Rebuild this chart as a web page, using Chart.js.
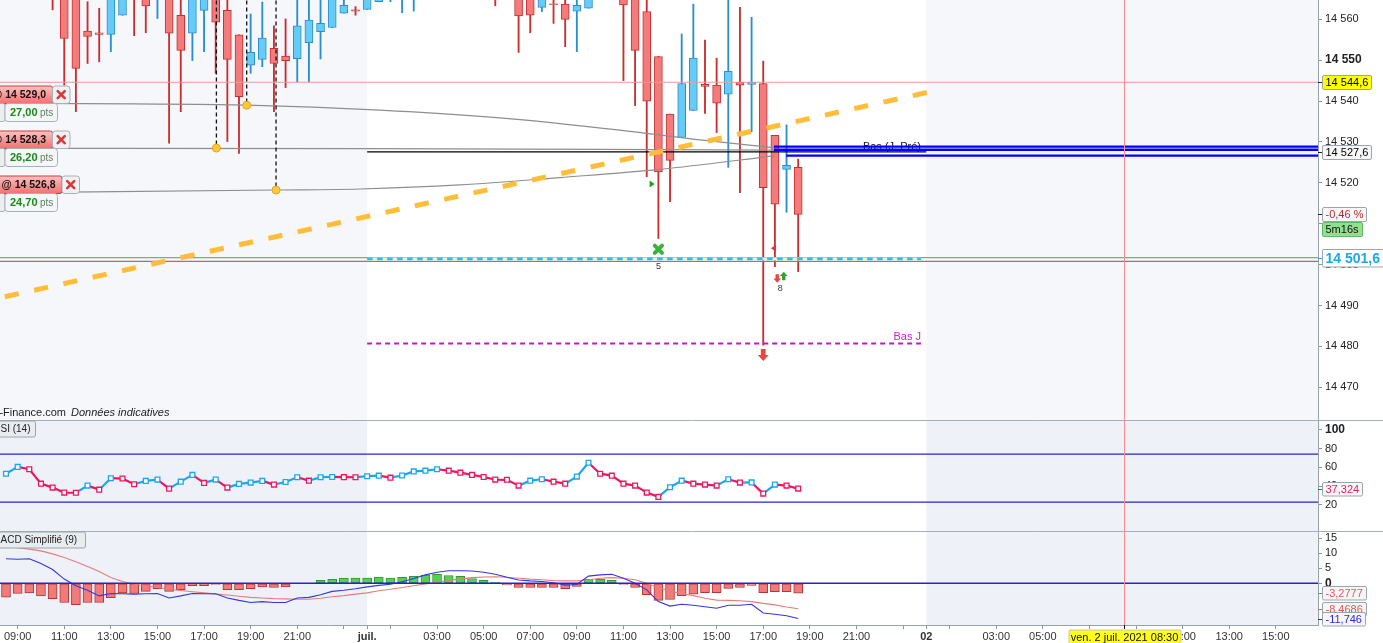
<!DOCTYPE html>
<html lang="fr">
<head>
    <meta charset="UTF-8">
    <title>Nasdaq 100 - 30 minutes</title>
    <script src="https://cdn.jsdelivr.net/npm/chart.js"></script>
    <style>
* { margin: 0; padding: 0; box-sizing: border-box; }
body { background: #ffffff; width: 1383px; height: 643px; overflow: hidden; }
canvas { display: block; }
    </style>
</head>
<body>
    <canvas id="priceChart" width="1383" height="420"></canvas>
    <canvas id="rsiChart" width="1383" height="111"></canvas>
    <canvas id="macdChart" width="1383" height="112"></canvas>

<script>
// time is counted in hours from 30/06 00:00, one candle every 30 min
const firstCandle = 8.5;
const candleStep = 0.5;

const opens = [14570, 14572, 14578, 14576, 14568, 14566, 14566, 14557.1, 14556.7, 14556.3,
    14561.0, 14570, 14567, 14566, 14567, 14561.0, 14556.6, 14562.2, 14567, 14562.2,
    14556.2, 14548.8, 14550.2, 14552.9, 14551.0, 14550.4, 14554.3, 14557.0, 14558.0, 14561.5,
    14562.3, 14562.4, 14564.3, 14567, 14566, 14569, 14573, 14575, 14577, 14575,
    14573, 14571, 14569, 14568, 14570, 14566, 14562.9, 14563.8, 14563.7, 14562.0,
    14562.7, 14572, 14569, 14567, 14566, 14561.9, 14550.9, 14536.8, 14531.1, 14537.7,
    14544.1, 14543.9, 14541.7, 14544.6, 14544.1, 14544.3, 14531.6, 14523.3, 14523.8];
const highs = [14576, 14580, 14581, 14578, 14570, 14568, 14568, 14564.3, 14562.7, 14569,
    14570, 14572, 14569, 14570, 14569, 14566, 14568, 14569, 14569, 14566,
    14556.2, 14561.3, 14564.2, 14558.4, 14560.1, 14566, 14566, 14566, 14568, 14566,
    14563.1, 14569, 14570, 14571, 14572, 14576, 14578, 14579, 14579, 14577,
    14575, 14573, 14571, 14570, 14572, 14568, 14568, 14566, 14566, 14566,
    14575, 14574, 14571, 14569, 14568, 14566, 14550.9, 14536.8, 14556.4, 14563.7,
    14554.9, 14550.5, 14566, 14562.9, 14560.5, 14549.8, 14531.6, 14534.2, 14525.8];
const lows = [14566, 14568, 14570, 14566, 14562.3, 14543.9, 14537.4, 14549.2, 14549.6, 14552.1,
    14561.0, 14556.0, 14556.7, 14560.2, 14529.7, 14537.4, 14549.9, 14552.1, 14546.8, 14530.1,
    14527.2, 14546.8, 14548.4, 14537.4, 14543.3, 14544.7, 14544.7, 14550.3, 14558.0, 14561.5,
    14561.0, 14562.4, 14564.3, 14564.3, 14561.6, 14562.0, 14570, 14572, 14571, 14569,
    14568, 14566, 14563.3, 14565, 14551.9, 14556.7, 14561.9, 14559.0, 14553.3, 14552.1,
    14562.7, 14566, 14565.5, 14545.0, 14538.9, 14521.5, 14506.4, 14515.4, 14531.1, 14537.7,
    14537.0, 14532.3, 14523.8, 14517.6, 14532.5, 14480.3, 14499.5, 14512.8, 14498.3];
const closes = [14572, 14578, 14576, 14568, 14565.5, 14555.3, 14548.0, 14555.8, 14556.3, 14567,
    14568, 14566, 14563.3, 14568, 14556.6, 14552.4, 14566, 14567, 14559.3, 14550.2,
    14541.1, 14551.9, 14555.4, 14549.2, 14549.9, 14558.4, 14559.8, 14559.0, 14566, 14563.4,
    14562.0, 14567, 14568, 14569, 14570, 14574, 14576, 14577, 14575, 14573,
    14571, 14569, 14567, 14567.5, 14560.8, 14561.0, 14566, 14563.6, 14560.0, 14563.4,
    14572, 14569, 14567, 14563.5, 14552.4, 14540.0, 14522.7, 14525.5, 14544.3, 14550.5,
    14543.6, 14539.5, 14547.3, 14543.9, 14544.6, 14518.8, 14514.8, 14524.3, 14512.3];

const rsi14 = [53.2, 60.4, 57.9, 42.6, 38.4, 33.1, 32.9, 40.5, 36.2, 48.4,
    48.0, 42.0, 45.5, 46.9, 37.3, 44.7, 51.9, 43.4, 46.9, 38.4,
    42.3, 43.7, 45.5, 41.6, 44.4, 49.4, 45.8, 49.4, 49.7, 49.5,
    49.4, 50.5, 51.1, 49.0, 51.3, 55.6, 56.4, 57.9, 56.4, 54.3,
    51.9, 49.7, 46.9, 46.7, 40.5, 45.8, 47.3, 44.7, 42.6, 50.1,
    64.9, 53.2, 51.1, 42.6, 40.5, 33.1, 28.5, 38.8, 45.8, 42.6,
    41.6, 40.5, 47.3, 43.7, 43.9, 32.0, 41.6, 40.5, 37.324];
const rsiBands = [74, 23];

const macdLine = [8.2, 8.0, 8.2, 6.6, 4.6, 1.4, -0.8, -2.3, -4.2, -3.4,
    -3.5, -3.6, -3.5, -3.4, -4.9, -4.2, -3.4, -3.5, -3.5, -4.9,
    -5.7, -6.4, -6.1, -6.4, -6.4, -4.9, -4.7, -3.8, -2.7, -2.3,
    -1.8, -1.2, -0.7, -0.3, 0.5, 1.6, 2.8, 3.7, 4.2, 4.2,
    4.1, 3.7, 3.0, 2.0, 1.1, 0.8, 0.6, 0.2, -0.6, -0.4,
    2.4, 2.8, 3.0, 1.7, 0.0, -2.2, -6.1, -7.6, -7.0, -7.3,
    -7.8, -8.3, -7.3, -7.3, -7.0, -9.9, -10.3, -10.8, -11.746];
const macdSignal = [12.1, 11.9, 11.4, 10.8, 9.8, 8.6, 7.2, 5.6, 3.9, 1.9,
    0.6, -0.3, -0.8, -1.4, -2.0, -2.4, -2.8, -3.2, -3.6, -3.9,
    -4.3, -4.7, -4.9, -5.1, -5.2, -5.3, -5.3, -5.0, -4.5, -4.1,
    -3.6, -3.2, -2.5, -2.0, -1.4, -0.8, -0.2, 0.3, 1.0, 1.4,
    1.9, 2.1, 2.2, 2.0, 1.7, 1.4, 1.2, 0.9, 0.8, 0.8,
    1.2, 1.7, 1.9, 1.7, 1.2, 0.0, -1.4, -2.6, -3.4, -4.1,
    -5.0, -5.6, -5.7, -5.8, -6.1, -6.7, -7.2, -7.9, -8.4686];
const macdHisto = [-4.6, -3.4, -3.2, -4.2, -5.1, -6.4, -7.1, -6.4, -6.4, -4.8,
    -3.2, -3.4, -2.7, -1.8, -2.7, -2.1, -0.8, -0.8, -0.4, -2.1,
    -2.1, -1.8, -1.2, -1.4, -1.2, 0.0, 0.0, 1.0, 1.3, 1.7,
    1.7, 1.7, 2.1, 1.7, 2.0, 2.3, 2.7, 3.0, 2.6, 2.3,
    1.6, 1.0, 0.3, -0.5, -1.4, -1.4, -1.4, -1.4, -1.8, -1.0,
    1.3, 1.3, 1.0, -0.4, -1.4, -3.8, -5.7, -5.4, -4.1, -3.6,
    -3.1, -3.1, -1.7, -1.4, -0.7, -3.1, -2.8, -2.8, -3.2777];

const timeTicks = [9, 11, 13, 15, 17, 19, 21, 23, 24, 25, 27, 29, 31, 33, 35, 37, 39, 41, 43, 45, 47, 48, 49, 51, 53, 55, 57, 59, 61, 63];
const timeLabels = ['09:00', '11:00', '13:00', '15:00', '17:00', '19:00', '21:00', '', 'juil.', '',
    '03:00', '05:00', '07:00', '09:00', '11:00', '13:00', '15:00', '17:00', '19:00', '21:00',
    '', '02', '', '03:00', '05:00', '07:00', '09:00', '11:00', '13:00', '15:00'];
const boldTimeLabels = ['juil.', '02'];
const priceTicks = [14470, 14480, 14490, 14500, 14510, 14520, 14530, 14540, 14550, 14560];
const rsiTicks = [20, 40, 60, 80, 100];
const macdTicks = [0, 5, 10, 15];

// drawn objects and levels
const dayBreaks = [24, 48];
const levelLabelEnd = 47.77;
const alertLevel = 14544.6;
const prevDayLow = 14527.6;
const dayLow = 14480.7;
const lastQuote = 14501.6;
const quoteBand = [14500.8, 14501.4, 14501.7];
const positionLevels = [14528.85, 14528.1, 14526.65];
const positionStarts = [41.46, 41.46, 41.98];
const entryTimes = [17.53, 18.83, 20.09];
const entryPrices = [14528.5, 14539.0, 14518.25];
const orderPrices = [14529.0, 14528.3, 14526.8];
const orderGains = [27.0, 26.2, 24.7];
const trendLine = [[8.2425, 14491.9], [48.03, 14542.1]];
const exitCurves = [
    [[8.2425, 14539.5], [18.84, 14539.0], [24.55, 14537.8], [29.7, 14535.9], [34.85, 14532.9], [38.29, 14530.5], [41.46, 14528.6]],
    [[8.2425, 14528.45], [24, 14528.35], [34, 14528.2], [41.46, 14528.0]],
    [[8.2425, 14517.6], [20.09, 14518.25], [23.69, 14518.5], [27.98, 14519.5], [32.28, 14521.3], [36.57, 14523.3], [41.46, 14526.6]]
];
const tradeMarks = [
    { t: 36.23, p: 14519.7, kind: 'buyTri' },
    { t: 36.5, p: 14503.75, kind: 'cross' },
    { t: 41.44, p: 14504.0, kind: 'sellTri' },
    { t: 41.6, p: 14496.6, kind: 'down' },
    { t: 41.88, p: 14497.2, kind: 'up' },
    { t: 41.0, p: 14477.9, kind: 'bigDown' }
];
const markTexts = [{ t: 36.5, p: 14499.6, text: '5' }, { t: 41.73, p: 14494.2, text: '8' }];
const dayChange = -0.46;
const countdown = '5m16s';
const cursorTime = 56.5;
const cursorLabel = 'ven. 2 juil. 2021 08:30';

const xMin = 8.2425, xMax = 64.81;
const priceMin = 14462.0, priceMax = 14564.72;

const FONT = 'Arial, "Liberation Sans", Helvetica, sans-serif';
Chart.defaults.font.family = FONT;
Chart.defaults.font.size = 11;
Chart.defaults.color = '#222';

const candleTimes = opens.map((_, i) => firstCandle + i * candleStep);
const upCandle = opens.map((o, i) => closes[i] >= o);
const farLeft = xMin - 1, farRight = xMax + 1;

function frNumber(v, decimals) {
    const parts = Math.abs(v).toFixed(decimals).split('.');
    const whole = parts[0].replace(/\B(?=(\d{3})+(?!\d))/g, ' ');
    return (v < 0 ? '-' : '') + whole + (parts[1] ? ',' + parts[1] : '');
}

function roundBox(ctx, x, y, w, h, r, fill, stroke) {
    ctx.beginPath();
    if (ctx.roundRect) ctx.roundRect(x, y, w, h, r); else ctx.rect(x, y, w, h);
    if (fill) { ctx.fillStyle = fill; ctx.fill(); }
    if (stroke) { ctx.strokeStyle = stroke; ctx.lineWidth = 1; ctx.stroke(); }
}

function seg(points, color, width, dash, order, extra) {
    return Object.assign({
        type: 'line',
        data: points.map(p => ({ x: p[0], y: p[1] })),
        borderColor: color, borderWidth: width, borderDash: dash || [],
        pointRadius: 0, fill: false, tension: 0, clip: 0, order: order
    }, extra || {});
}

function xAxis(show) {
    return {
        type: 'linear', min: xMin, max: xMax, offset: false, bounds: 'data', display: show,
        grid: { drawOnChartArea: false, offset: false, tickLength: 4, color: '#8c959e' },
        border: { display: true, color: '#98a2ac' },
        afterFit(s) { if (show) s.height = 18; s.paddingLeft = 0; s.paddingRight = 0; },
        afterBuildTicks(s) { s.ticks = timeTicks.map(v => ({ value: v })); },
        ticks: {
            autoSkip: false, maxRotation: 0, padding: 1, color: '#333',
            font: c => ({ size: 11, weight: boldTimeLabels.includes(timeLabels[c.index]) ? 'bold' : 'normal' }),
            callback: (v, i) => timeLabels[i]
        }
    };
}

function yAxis(min, max, tickValues, boldValue) {
    return {
        position: 'right', min: min, max: max, bounds: 'data', beginAtZero: false,
        grid: { drawOnChartArea: false, tickLength: 4, color: '#8c959e' },
        border: { display: true, color: '#98a2ac' },
        afterFit(s) { s.width = 65; s.paddingTop = 0; s.paddingBottom = 0; },
        afterBuildTicks(s) { s.ticks = tickValues.map(v => ({ value: v })); },
        ticks: {
            padding: 3, color: '#222',
            font: c => (c.tick && c.tick.value === boldValue) ? { size: 12, weight: 'bold' } : { size: 11 },
            callback: v => frNumber(v, 0)
        }
    };
}

function chartOptions(yScale, showX) {
    return {
        responsive: false, animation: false, events: [],
        layout: { padding: 0, autoPadding: false },
        plugins: { legend: { display: false }, tooltip: { enabled: false } },
        scales: { x: xAxis(showX), y: yScale }
    };
}

function panePlugin(shadeColor, separator) {
    return {
        id: 'pane',
        beforeDraw(chart) {
            const { ctx, chartArea: a, scales: { x } } = chart;
            const d1 = x.getPixelForValue(dayBreaks[0]);
            const d2 = x.getPixelForValue(dayBreaks[1]);
            ctx.save();
            ctx.fillStyle = shadeColor;
            ctx.fillRect(a.left, a.top, d1 - a.left, a.bottom - a.top);
            ctx.fillRect(d2, a.top, a.right - d2, a.bottom - a.top);
            ctx.restore();
        },
        afterDatasetsDraw(chart) {
            const { ctx, chartArea: a, scales: { x } } = chart;
            const cx = Math.round(x.getPixelForValue(cursorTime)) + 0.5;
            ctx.save();
            ctx.strokeStyle = '#ff8c8c';
            ctx.lineWidth = 1;
            ctx.beginPath(); ctx.moveTo(cx, a.top); ctx.lineTo(cx, a.bottom); ctx.stroke();
            ctx.restore();
        },
        afterDraw(chart) {
            if (!separator) return;
            const ctx = chart.ctx;
            ctx.save();
            ctx.strokeStyle = '#a6aeb6';
            ctx.lineWidth = 1;
            ctx.beginPath(); ctx.moveTo(0, 0.5); ctx.lineTo(chart.width, 0.5); ctx.stroke();
            ctx.restore();
        }
    };
}

function drawAxisTag(chart, py, text, style) {
    const { ctx, chartArea: a } = chart;
    ctx.font = style.font;
    const w = Math.ceil(ctx.measureText(text).width) + 6;
    const h = style.h;
    const x0 = a.right + 4.5, y0 = Math.round(py - h / 2) + 0.5;
    ctx.strokeStyle = style.tick || '#222';
    ctx.lineWidth = 1;
    ctx.beginPath(); ctx.moveTo(a.right, Math.round(py) + 0.5); ctx.lineTo(a.right + 4, Math.round(py) + 0.5); ctx.stroke();
    roundBox(ctx, x0, y0, w, h, 1.5, style.bg, style.border || '#9ca5ad');
    ctx.fillStyle = style.fg;
    ctx.textAlign = 'left';
    ctx.textBaseline = 'middle';
    ctx.fillText(text, x0 + 3, y0 + h / 2 + 0.5);
}

function drawPaneTitle(ctx, hidden, shown, boxW) {
    ctx.font = '10px ' + FONT;
    const cut = ctx.measureText(hidden).width;
    roundBox(ctx, -4, 1, boxW + 4, 16, 2, '#e8ecef', '#9aa4ac');
    ctx.fillStyle = '#222';
    ctx.textAlign = 'left';
    ctx.textBaseline = 'middle';
    ctx.fillText(hidden + shown, 0.5 - cut, 9.5);
}

function drawOrderTag(ctx, yb, price, gain, right) {
    const top = yb - 17.5;
    const g = ctx.createLinearGradient(0, top, 0, yb);
    g.addColorStop(0, '#ffc2c2');
    g.addColorStop(1, '#f27070');
    roundBox(ctx, -6.5, top, right + 6.5, 17.5, 2, g, '#cf3b3b');
    ctx.fillStyle = '#111';
    ctx.font = 'bold 10.5px ' + FONT;
    ctx.textAlign = 'right';
    ctx.textBaseline = 'middle';
    ctx.fillText('@ ' + frNumber(price, 1), right - 6.5, top + 9);
    roundBox(ctx, right, top, 17.5, 17.5, 3, '#f0f1f3', '#a8b1ba');
    const cx = right + 8.7, cy = top + 8.7;
    ctx.strokeStyle = '#d63a3a';
    ctx.lineWidth = 2.6;
    ctx.lineCap = 'round';
    ctx.beginPath();
    ctx.moveTo(cx - 3.5, cy - 3.5); ctx.lineTo(cx + 3.5, cy + 3.5);
    ctx.moveTo(cx + 3.5, cy - 3.5); ctx.lineTo(cx - 3.5, cy + 3.5);
    ctx.stroke();
    ctx.lineCap = 'butt';
    roundBox(ctx, -6.5, yb, 11.5, 18, 2, '#eceef0', '#a8b1ba');
    roundBox(ctx, 5, yb, 52.5, 18, 3, '#f5f6f7', '#a8b1ba');
    ctx.textAlign = 'left';
    ctx.fillStyle = '#1a8a1a';
    ctx.font = 'bold 11px ' + FONT;
    ctx.fillText(frNumber(gain, 2), 10, yb + 9.5);
    ctx.fillStyle = '#667f66';
    ctx.font = '10px ' + FONT;
    ctx.fillText('pts', 40, yb + 10);
}

function drawMark(ctx, kind, px, py) {
    ctx.beginPath();
    if (kind === 'buyTri' || kind === 'sellTri') {
        const d = kind === 'buyTri' ? 1 : -1;
        ctx.fillStyle = kind === 'buyTri' ? '#1e9e1e' : '#e03535';
        ctx.moveTo(px - 2.5 * d, py - 3.5);
        ctx.lineTo(px + 2.5 * d, py);
        ctx.lineTo(px - 2.5 * d, py + 3.5);
        ctx.closePath();
        ctx.fill();
    } else if (kind === 'cross') {
        ctx.strokeStyle = '#38b538';
        ctx.lineWidth = 4;
        ctx.lineCap = 'round';
        ctx.moveTo(px - 3.6, py - 3.6); ctx.lineTo(px + 3.6, py + 3.6);
        ctx.moveTo(px + 3.6, py - 3.6); ctx.lineTo(px - 3.6, py + 3.6);
        ctx.stroke();
        ctx.lineCap = 'butt';
    } else {
        const s = kind === 'bigDown' ? 1.2 : 0.85;
        const d = kind === 'up' ? -1 : 1;
        ctx.fillStyle = kind === 'up' ? '#2aa52a' : '#e84545';
        ctx.moveTo(px - 2 * s, py - 5 * s * d);
        ctx.lineTo(px + 2 * s, py - 5 * s * d);
        ctx.lineTo(px + 2 * s, py);
        ctx.lineTo(px + 4.5 * s, py);
        ctx.lineTo(px, py + 5 * s * d);
        ctx.lineTo(px - 4.5 * s, py);
        ctx.lineTo(px - 2 * s, py);
        ctx.closePath();
        ctx.fill();
    }
}

const priceOverlay = {
    id: 'priceOverlay',
    beforeDatasetsDraw(chart) {
        const { ctx, scales: { x, y } } = chart;
        ctx.save();
        ctx.font = '11px ' + FONT;
        ctx.textAlign = 'right';
        ctx.textBaseline = 'middle';
        ctx.fillStyle = '#111';
        ctx.fillText('Bas (J. Pré)', x.getPixelForValue(levelLabelEnd), y.getPixelForValue(positionLevels[0]) + 0.5);
        ctx.fillStyle = '#cc22cc';
        ctx.fillText('Bas J', x.getPixelForValue(levelLabelEnd), y.getPixelForValue(dayLow) - 6.5);
        ctx.restore();
    },
    afterDatasetsDraw(chart) {
        const { ctx, scales: { x, y } } = chart;
        ctx.save();
        tradeMarks.forEach(m => drawMark(ctx, m.kind, x.getPixelForValue(m.t), y.getPixelForValue(m.p)));
        ctx.font = '9px ' + FONT;
        ctx.fillStyle = '#333';
        ctx.textAlign = 'center';
        ctx.textBaseline = 'middle';
        markTexts.forEach(m => ctx.fillText(m.text, x.getPixelForValue(m.t), y.getPixelForValue(m.p)));
        ctx.restore();
    },
    afterDraw(chart) {
        const { ctx, scales: { y } } = chart;
        ctx.save();
        const tagRight = [52.5, 52.5, 62];
        exitCurves.forEach((curve, i) => {
            drawOrderTag(ctx, Math.round(y.getPixelForValue(curve[0][1])) + 0.5, orderPrices[i], orderGains[i], tagRight[i]);
        });

        ctx.font = '11px ' + FONT;
        const cut = ctx.measureText('IT').width;
        ctx.fillStyle = '#222';
        ctx.textAlign = 'left';
        ctx.textBaseline = 'middle';
        ctx.fillText('IT-Finance.com', -cut, 413);
        const w = ctx.measureText('IT-Finance.com').width;
        ctx.font = 'italic 11px ' + FONT;
        ctx.fillText('Données indicatives', w - cut + 5, 413);

        const lastClose = closes[closes.length - 1];
        drawAxisTag(chart, y.getPixelForValue(alertLevel), frNumber(alertLevel, 1),
            { font: '11px ' + FONT, h: 14, bg: '#ffff00', fg: '#000' });
        drawAxisTag(chart, y.getPixelForValue(prevDayLow), frNumber(prevDayLow, 1),
            { font: '11px ' + FONT, h: 14, bg: '#f6f7f8', fg: '#000' });
        drawAxisTag(chart, y.getPixelForValue(lastClose), frNumber(dayChange, 2) + ' %',
            { font: '11px ' + FONT, h: 14, bg: '#f8f8f8', fg: '#c0282d' });
        drawAxisTag(chart, y.getPixelForValue(lastClose) + 14.5, countdown,
            { font: '11px ' + FONT, h: 14, bg: '#8fe08f', fg: '#111', border: '#63b863', tick: 'rgba(0,0,0,0)' });
        drawAxisTag(chart, y.getPixelForValue(lastQuote), frNumber(lastQuote, 1),
            { font: 'bold 14px ' + FONT, h: 17.5, bg: '#ffffff', fg: '#1fa8e6', tick: '#1fa8e6' });
        ctx.restore();
    }
};

const rsiOverlay = {
    id: 'rsiOverlay',
    afterDraw(chart) {
        const { ctx, scales: { y } } = chart;
        ctx.save();
        drawPaneTitle(ctx, 'R', 'SI (14)', 35.5);
        const last = rsi14[rsi14.length - 1];
        drawAxisTag(chart, y.getPixelForValue(last), frNumber(last, 3),
            { font: '11px ' + FONT, h: 13.5, bg: '#f8f8f8', fg: '#ee1a62', tick: '#ee1a62' });
        ctx.restore();
    }
};

const macdOverlay = {
    id: 'macdOverlay',
    afterDraw(chart) {
        const { ctx, chartArea: a, scales: { x, y } } = chart;
        ctx.save();
        drawPaneTitle(ctx, 'M', 'ACD Simplifié (9)', 85.5);
        const n = macdLine.length - 1;
        drawAxisTag(chart, y.getPixelForValue(macdHisto[n]), frNumber(macdHisto[n], 4),
            { font: '11px ' + FONT, h: 13.5, bg: '#f6f6f6', fg: '#e05a5a', tick: '#e05a5a' });
        drawAxisTag(chart, y.getPixelForValue(macdSignal[n]), frNumber(macdSignal[n], 4),
            { font: '11px ' + FONT, h: 13.5, bg: '#f6f6f6', fg: '#e05a5a', tick: '#e05a5a' });
        drawAxisTag(chart, y.getPixelForValue(macdLine[n]), frNumber(macdLine[n], 3),
            { font: '11px ' + FONT, h: 13.5, bg: '#f6f6f6', fg: '#2a2ae0', tick: '#2a2ae0' });

        const cx = Math.round(x.getPixelForValue(cursorTime)) + 0.5;
        ctx.strokeStyle = '#111';
        ctx.lineWidth = 1;
        ctx.beginPath(); ctx.moveTo(cx, a.bottom); ctx.lineTo(cx, a.bottom + 4); ctx.stroke();
        ctx.font = '11px ' + FONT;
        const w = Math.ceil(ctx.measureText(cursorLabel).width) + 4;
        roundBox(ctx, Math.round(cx - w / 2), a.bottom + 5, w, 14, 1, '#ffff1a', '#c9c9a0');
        ctx.fillStyle = '#111';
        ctx.textAlign = 'center';
        ctx.textBaseline = 'middle';
        ctx.fillText(cursorLabel, cx, a.bottom + 12.5);
        ctx.restore();
    }
};

// price pane
new Chart(document.getElementById('priceChart'), {
    type: 'bar',
    data: {
        datasets: [
            {
                type: 'bar', order: 30, clip: 0, grouped: false,
                data: candleTimes.map((t, i) => ({ x: t, y: [lows[i], highs[i]] })),
                backgroundColor: upCandle.map(u => u ? '#2a8fcf' : '#c92f2f'),
                borderWidth: 0, barThickness: 1.2
            },
            {
                type: 'bar', order: 29, clip: 0, grouped: false,
                data: candleTimes.map((t, i) => ({ x: t, y: [opens[i], closes[i]] })),
                backgroundColor: upCandle.map(u => u ? '#66cbf5' : '#f47b7b'),
                borderColor: upCandle.map(u => u ? '#2a8fcf' : '#c92f2f'),
                borderWidth: 1, borderSkipped: false, barThickness: 8
            },
            seg([[farLeft, alertLevel], [farRight, alertLevel]], '#ef9a9a', 1.2, null, 20),
            seg([[farLeft, quoteBand[2]], [farRight, quoteBand[2]]], '#5cc45c', 1.2, null, 20),
            seg([[farLeft, quoteBand[0]], [farRight, quoteBand[0]]], '#dc5a5a', 1.2, null, 20),
            seg([[dayBreaks[0], quoteBand[1]], [levelLabelEnd, quoteBand[1]]], '#dcf5dc', 3, null, 19),
            seg([[dayBreaks[0], quoteBand[1]], [levelLabelEnd, quoteBand[1]]], '#27c1ee', 2.6, [5.5, 4.5], 18),
            seg([[dayBreaks[0], dayLow], [levelLabelEnd, dayLow]], '#cc11cc', 2, [5, 4], 18),
            seg([[dayBreaks[0], prevDayLow], [dayBreaks[1], prevDayLow]], '#000000', 1.2, null, 17),
            ...exitCurves.map(c => seg(c, '#8e8e8e', 1.2, null, 12, { cubicInterpolationMode: 'monotone' })),
            ...entryTimes.map((t, i) => seg([[t, priceMax + 5], [t, entryPrices[i]]], '#111111', 1.3, [4, 3], 11)),
            {
                type: 'line', order: 10, clip: 0, showLine: false,
                data: entryTimes.map((t, i) => ({ x: t, y: entryPrices[i] })),
                pointRadius: 4, pointBackgroundColor: '#ffc83c', pointBorderColor: '#e9a51c', pointBorderWidth: 1
            },
            ...positionLevels.map((p, i) => seg([[positionStarts[i], p], [farRight, p]], '#0000ff', 2.3, null, 5)),
            seg(trendLine, '#ffbd3a', 5, [14.3, 15.7], 2, { borderDashOffset: 25.1 })
        ]
    },
    options: chartOptions(yAxis(priceMin, priceMax, priceTicks, 14550), false),
    plugins: [panePlugin('#f5f7fb', false), priceOverlay]
});

// RSI pane
const RSI_UP = '#1ea5ef', RSI_DOWN = '#ef1660';
new Chart(document.getElementById('rsiChart'), {
    type: 'line',
    data: {
        datasets: [
            seg([[farLeft, rsiBands[0]], [farRight, rsiBands[0]]], '#2727c6', 1.3, null, 5),
            seg([[farLeft, rsiBands[1]], [farRight, rsiBands[1]]], '#2727c6', 1.3, null, 5),
            {
                type: 'line', order: 1, clip: 0,
                data: candleTimes.map((t, i) => ({ x: t, y: rsi14[i] })),
                borderColor: RSI_UP, borderWidth: 2.2, tension: 0,
                segment: { borderColor: c => c.p1.parsed.y >= c.p0.parsed.y ? RSI_UP : RSI_DOWN },
                pointStyle: 'rect', pointRadius: 3.4, pointBorderWidth: 1.3,
                pointBackgroundColor: '#ffffff',
                pointBorderColor: rsi14.map((v, i) => i === 0 || v >= rsi14[i - 1] ? RSI_UP : RSI_DOWN)
            }
        ]
    },
    options: chartOptions(yAxis(-7.77, 110.3, rsiTicks, 100), false),
    plugins: [panePlugin('#eef1f8', true), rsiOverlay]
});

// MACD pane
new Chart(document.getElementById('macdChart'), {
    type: 'bar',
    data: {
        datasets: [
            seg([[farLeft, 0], [farRight, 0]], '#2323d2', 1.5, null, 0),
            seg(candleTimes.map((t, i) => [t, macdLine[i]]), '#3535e8', 1.1, null, 1),
            seg(candleTimes.map((t, i) => [t, macdSignal[i]]), '#e57d7d', 1.1, null, 2),
            {
                type: 'bar', order: 5, clip: 0, grouped: false,
                data: candleTimes.map((t, i) => ({ x: t, y: macdHisto[i] })),
                backgroundColor: macdHisto.map(v => v >= 0 ? '#55d055' : '#ef7b7b'),
                borderColor: macdHisto.map(v => v >= 0 ? '#2f9a2f' : '#b93434'),
                borderWidth: 1, borderSkipped: false, barThickness: 9
            }
        ]
    },
    options: chartOptions(yAxis(-13.9, 17.43, macdTicks, 0), true),
    plugins: [panePlugin('#eef1f8', true), macdOverlay]
});
</script>
</body>
</html>
